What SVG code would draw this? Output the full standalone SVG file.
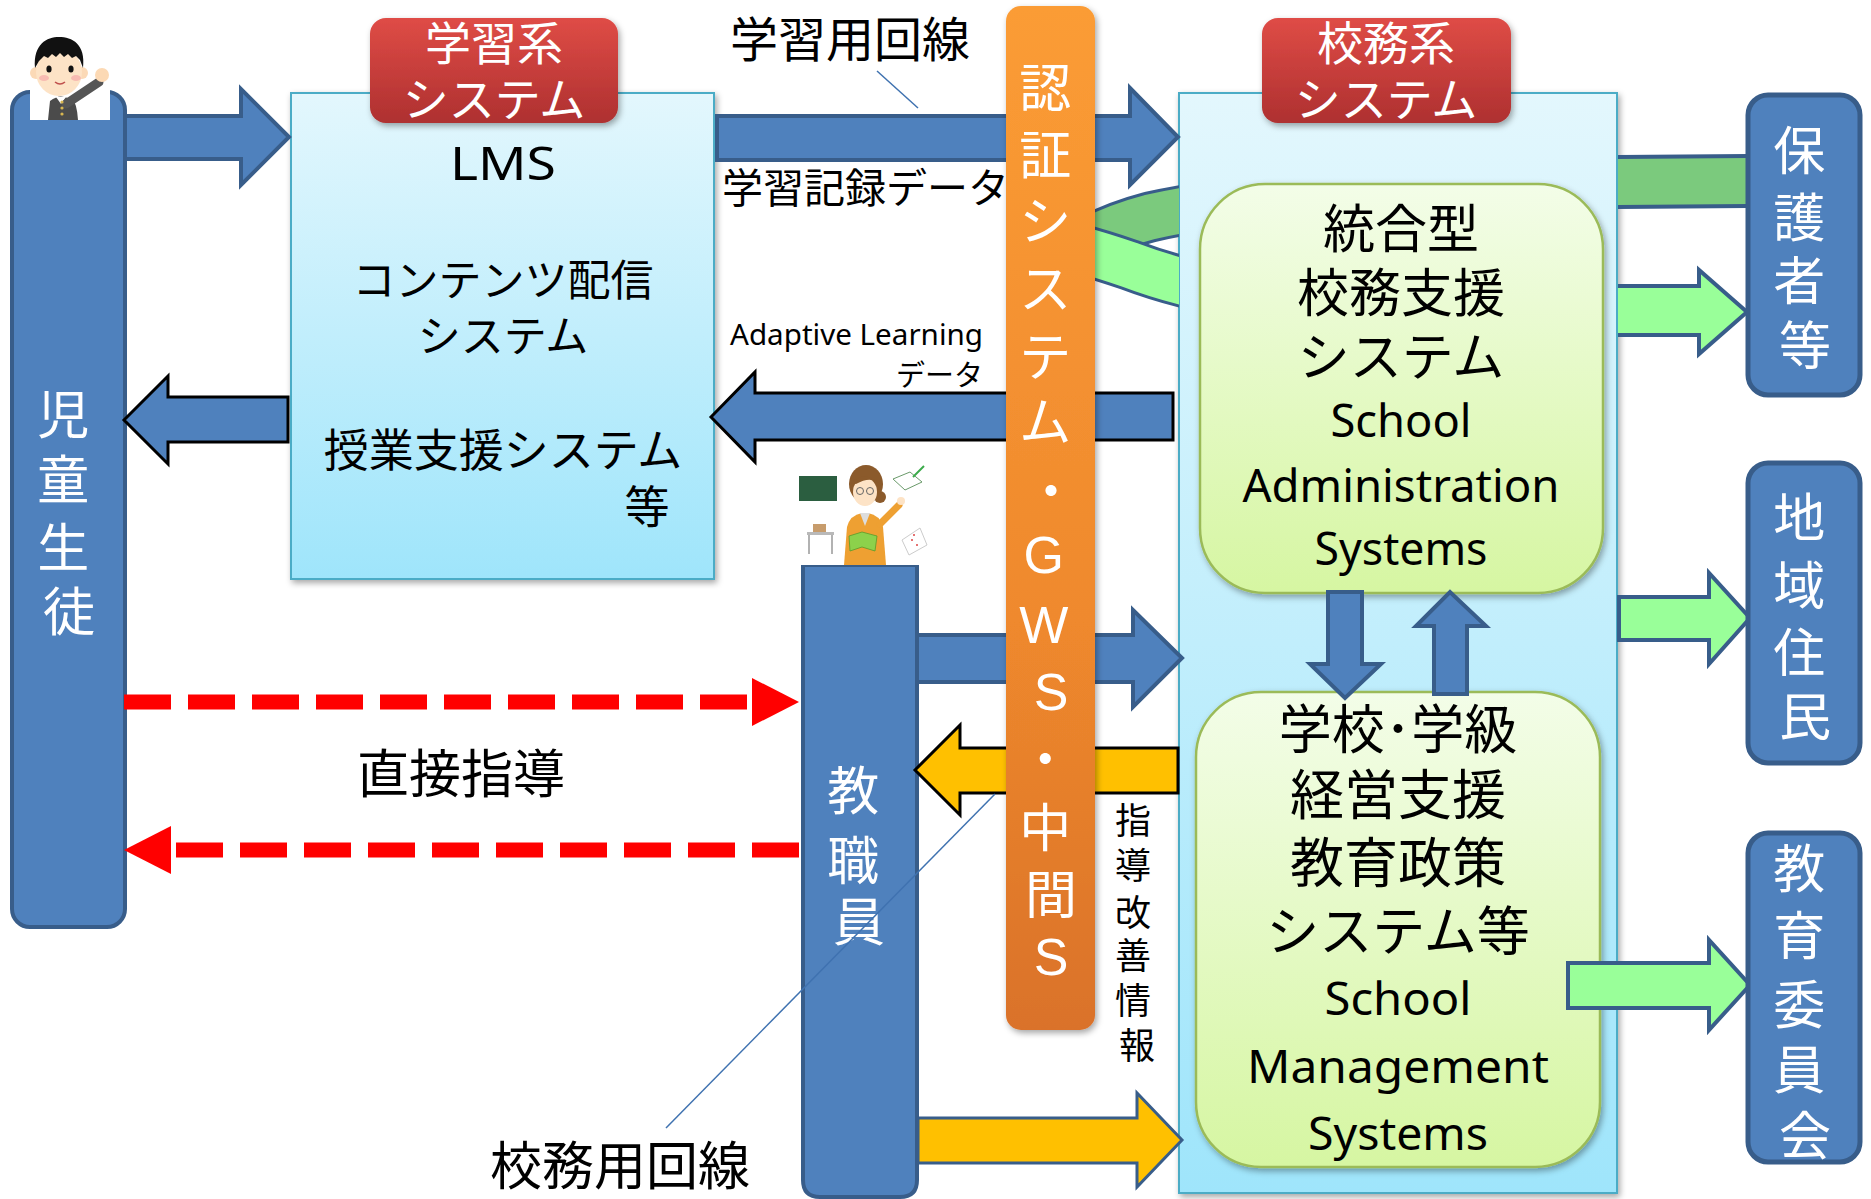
<svg xmlns="http://www.w3.org/2000/svg" width="1871" height="1199" viewBox="0 0 1871 1199">
  <defs>
    <linearGradient id="gLightBlue" x1="0" y1="0" x2="0" y2="1">
      <stop offset="0" stop-color="#e3f7fd"/>
      <stop offset="1" stop-color="#9fe5fb"/>
    </linearGradient>
    <linearGradient id="gGreenBox" x1="0" y1="0" x2="0" y2="1">
      <stop offset="0" stop-color="#f3fde8"/>
      <stop offset="1" stop-color="#d6f6a2"/>
    </linearGradient>
    <linearGradient id="gRed" x1="0" y1="0" x2="0" y2="1">
      <stop offset="0" stop-color="#df4c46"/>
      <stop offset="1" stop-color="#ae3030"/>
    </linearGradient>
    <linearGradient id="gOrange" x1="0" y1="0" x2="0" y2="1">
      <stop offset="0" stop-color="#fb9c35"/>
      <stop offset="0.6" stop-color="#ef892d"/>
      <stop offset="1" stop-color="#da722a"/>
    </linearGradient>
    <filter id="shadow" x="-10%" y="-10%" width="130%" height="130%">
      <feDropShadow dx="2" dy="3" stdDeviation="3" flood-color="#000" flood-opacity="0.35"/>
    </filter>
    <clipPath id="leftOfAdmin">
      <rect x="0" y="0" width="1179" height="1199"/>
    </clipPath>
  </defs>
  <style>
    .jp{font-family:"Noto Sans CJK JP","Noto Sans CJK SC",sans-serif}
    .en{font-family:"Noto Sans","Open Sans",sans-serif}
    .lat{font-family:"Liberation Sans",Arial,sans-serif}
    .white{fill:#fff}
    .black{fill:#000}
    .mid{text-anchor:middle}
    .blueNode{fill:#4f81bd;stroke:#385d8a;stroke-width:4}
    .entity{fill:#4f81bd;stroke:#385d8a;stroke-width:5}
    .redTag{fill:url(#gRed);filter:url(#shadow)}
    .sysBox{fill:url(#gLightBlue);stroke:#4bacc6;stroke-width:2;filter:url(#shadow)}
    .subBox{fill:url(#gGreenBox);stroke:#9bbb59;stroke-width:2.5;filter:url(#shadow)}
    .arrowBlue{fill:#4f81bd;stroke:#385d8a;stroke-width:4}
    .arrowBlueK{fill:#4f81bd;stroke:#000;stroke-width:3}
    .arrowYellowK{fill:#ffc000;stroke:#000;stroke-width:3}
    .arrowYellow{fill:#ffc000;stroke:#385d8a;stroke-width:3}
    .arrowGreen{fill:#99ff99;stroke:#385d8a;stroke-width:4}
    .edge{fill:none;stroke:#385d8a;stroke-width:4}
    .dash{stroke:#ff0000;stroke-width:15;stroke-dasharray:47 17;fill:none}
    .leader{stroke:#3f72b0;stroke-width:1.5;fill:none}
  </style>

  <rect x="0" y="0" width="1871" height="1199" fill="#fff"/>

  <!-- learning system box -->
  <g id="lms">
    <rect class="sysBox" x="291" y="93" width="423" height="486"/>
    <text class="en black mid" x="503" y="180" font-size="46" textLength="106" lengthAdjust="spacingAndGlyphs">LMS</text>
    <text class="jp black mid" x="503" y="296" font-size="43">コンテンツ配信</text>
    <text class="jp black mid" x="503" y="352" font-size="43">システム</text>
    <text class="jp black mid" x="503" y="467" font-size="45">授業支援システム</text>
    <text class="jp black mid" x="647" y="524" font-size="45">等</text>
  </g>

  <!-- school administration box -->
  <g id="admin">
    <rect class="sysBox" x="1179" y="93" width="438" height="1100"/>
  </g>

  <g id="admin-integrated">
    <rect class="subBox" x="1200" y="184" width="403" height="409" rx="65"/>
    <text class="jp black mid" x="1401" y="248" font-size="52">統合型</text>
    <text class="jp black mid" x="1401" y="312" font-size="52">校務支援</text>
    <text class="jp black mid" x="1401" y="376" font-size="52">システム</text>
    <text class="en black mid" x="1401" y="437" font-size="46" textLength="141" lengthAdjust="spacingAndGlyphs">School</text>
    <text class="en black mid" x="1401" y="502" font-size="46" textLength="317" lengthAdjust="spacingAndGlyphs">Administration</text>
    <text class="en black mid" x="1401" y="565" font-size="46" textLength="173" lengthAdjust="spacingAndGlyphs">Systems</text>
  </g>

  <g id="admin-management">
    <rect class="subBox" x="1196" y="692" width="404" height="475" rx="65"/>
    <text class="jp black mid" x="1398" y="749" font-size="53">学校･学級</text>
    <text class="jp black mid" x="1398" y="815" font-size="54">経営支援</text>
    <text class="jp black mid" x="1398" y="883" font-size="54">教育政策</text>
    <text class="jp black mid" x="1398" y="951" font-size="53">システム等</text>
    <text class="en black mid" x="1398" y="1015" font-size="46" textLength="147" lengthAdjust="spacingAndGlyphs">School</text>
    <text class="en black mid" x="1398" y="1083" font-size="46" textLength="302" lengthAdjust="spacingAndGlyphs">Management</text>
    <text class="en black mid" x="1398" y="1150" font-size="46" textLength="180" lengthAdjust="spacingAndGlyphs">Systems</text>
  </g>

  <!-- category tags -->
  <g id="tag-learning">
    <rect class="redTag" x="370" y="18" width="248" height="105" rx="16"/>
    <text class="jp white mid" x="494" y="60" font-size="46">学習系</text>
    <text class="jp white mid" x="494" y="116" font-size="46">システム</text>
  </g>
  <g id="tag-admin">
    <rect class="redTag" x="1262" y="18" width="249" height="105" rx="16"/>
    <text class="jp white mid" x="1386" y="60" font-size="46">校務系</text>
    <text class="jp white mid" x="1386" y="116" font-size="46">システム</text>
  </g>

  <!-- students -->
  <g id="students">
    <rect class="blueNode" x="12" y="92" width="113" height="835" rx="18"/>
    <rect x="30" y="38" width="80" height="82" fill="#fff"/>
    <path d="M48,120 L50,101 Q58,95 64,97 L72,99 Q77,103 78,120 Z" fill="#4b4b4b"/>
    <path d="M56,97 L61,104 L66,97 Z" fill="#fff"/>
    <line x1="66" y1="104" x2="99" y2="82" stroke="#555" stroke-width="9" stroke-linecap="round"/>
    <circle cx="102" cy="75" r="7" fill="#fcd9b4"/>
    <circle cx="62" cy="102" r="1.6" fill="#d8b650"/>
    <circle cx="62" cy="108" r="1.6" fill="#d8b650"/>
    <circle cx="62" cy="114" r="1.6" fill="#d8b650"/>
    <circle cx="36" cy="73" r="6" fill="#fbd9b6"/>
    <circle cx="82" cy="73" r="6" fill="#fbd9b6"/>
    <ellipse cx="59" cy="72" rx="23" ry="24" fill="#fde3c6"/>
    <path d="M35,68 C33,44 47,37 59,37 C72,37 86,44 83,68 L80,60 L76,56 L72,58 L68,54 L64,57 L60,53 L56,57 L52,54 L48,58 L44,56 L39,61 Z" fill="#111"/>
    <ellipse cx="49" cy="69" rx="2.6" ry="3.6" fill="#111"/>
    <ellipse cx="71" cy="69" rx="2.6" ry="3.6" fill="#111"/>
    <ellipse cx="44" cy="78" rx="5" ry="3" fill="#f5aaaa" opacity="0.7"/>
    <ellipse cx="76" cy="78" rx="5" ry="3" fill="#f5aaaa" opacity="0.7"/>
    <path d="M55,82 Q60,86 65,82" stroke="#c0504d" stroke-width="1.5" fill="none"/>
    <text class="jp white mid" font-size="52">
      <tspan x="69" y="434">児</tspan>
      <tspan x="69" y="499">童</tspan>
      <tspan x="69" y="567">生</tspan>
      <tspan x="69" y="631">徒</tspan>
    </text>
  </g>

  <!-- teachers -->
  <g id="teachers">
    <path class="blueNode" d="M803,565 L917,565 L917,1180 Q917,1197 900,1197 L820,1197 Q803,1197 803,1180 Z"/>
    <rect x="799" y="463" width="128" height="102" fill="#fff"/>
    <rect x="799" y="476" width="38" height="25" fill="#2b5e40"/>
    <rect x="807" y="532" width="27" height="3" fill="#b9b9b9"/>
    <rect x="813" y="524" width="13" height="8" fill="#c79c6c"/>
    <line x1="809" y1="535" x2="809" y2="554" stroke="#999" stroke-width="1.5"/>
    <line x1="832" y1="535" x2="832" y2="554" stroke="#999" stroke-width="1.5"/>
    <circle cx="880" cy="497" r="6" fill="#8b5a2b"/>
    <ellipse cx="866" cy="484" rx="17" ry="19" fill="#8b5a2b"/>
    <ellipse cx="865" cy="492" rx="12" ry="14" fill="#fde3c6"/>
    <path d="M851,483 Q864,470 879,483 Q870,476 856,484 Z" fill="#8b5a2b"/>
    <circle cx="860" cy="491" r="3.5" fill="none" stroke="#666" stroke-width="1"/>
    <circle cx="870" cy="491" r="3.5" fill="none" stroke="#666" stroke-width="1"/>
    <path d="M844,565 L847,527 Q850,515 862,513 L868,513 Q880,515 883,527 L886,565 Z" fill="#eea032"/>
    <path d="M860,513 L865,526 L870,513 Z" fill="#ddd"/>
    <line x1="880" y1="524" x2="899" y2="505" stroke="#eea032" stroke-width="7" stroke-linecap="round"/>
    <circle cx="901" cy="501" r="4" fill="#fde3c6"/>
    <path d="M849,536 L862,532 L877,536 L875,551 L862,547 L850,551 Z" fill="#8cd14b" stroke="#5a9a2a" stroke-width="0.8"/>
    <path d="M893,479 L910,472 L922,482 L905,490 Z" fill="#fff" stroke="#6a9a6a" stroke-width="1"/>
    <line x1="913" y1="477" x2="924" y2="466" stroke="#3aaa4a" stroke-width="2"/>
    <path d="M902,540 L920,528 L927,545 L909,555 Z" fill="#fff" stroke="#ccc" stroke-width="1"/>
    <circle cx="912" cy="540" r="1" fill="#d44"/>
    <circle cx="917" cy="545" r="1" fill="#d44"/>
    <circle cx="914" cy="535" r="1" fill="#d44"/>
    <text class="jp white mid" font-size="52">
      <tspan x="859" y="810">教</tspan>
      <tspan x="859" y="880">職</tspan>
      <tspan x="859" y="941">員</tspan>
    </text>
  </g>

  <!-- connectors -->
  <g id="connectors">
    <!-- looping ribbon on the left side of the admin box -->
    <g clip-path="url(#leftOfAdmin)">
      <path d="M1300,197 C1240,201 1195,207 1150,217 C1100,230 1070,250 1045,268" fill="none" stroke="#385d8a" stroke-width="51"/>
      <path d="M1300,197 C1240,201 1195,207 1150,217 C1100,230 1070,250 1045,268" fill="none" stroke="#7bca7d" stroke-width="45"/>
      <path d="M1035,240 C1065,244 1095,253 1130,265 C1180,284 1240,296 1300,302" fill="none" stroke="#385d8a" stroke-width="52"/>
      <path d="M1035,240 C1065,244 1095,253 1130,265 C1180,284 1240,296 1300,302" fill="none" stroke="#99ff99" stroke-width="46"/>
    </g>
    <!-- ribbon back band towards guardians -->
    <rect x="1618" y="157" width="130" height="50" fill="#7bca7d"/>
    <line class="edge" x1="1618" y1="157" x2="1748" y2="156"/>
    <line class="edge" x1="1618" y1="207" x2="1748" y2="206"/>
    <!-- ribbon front band arrow towards guardians -->
    <polygon points="1618,286 1699,286 1699,270 1747,312 1699,354 1699,335 1618,335" fill="#99ff99"/>
    <polyline class="edge" points="1618,286 1699,286 1699,270 1747,312 1699,354 1699,335 1618,335"/>

    <polygon class="arrowGreen" points="1619,597 1709,597 1709,573 1750,618 1709,664 1709,640 1619,640"/>
    <polygon class="arrowGreen" points="1568,963 1709,963 1709,940 1750,985 1709,1030 1709,1008 1568,1008"/>

    <!-- links between the two admin subsystems -->
    <polygon class="arrowBlue" points="1328,592 1362,592 1362,664 1381,664 1345,698 1310,664 1328,664"/>
    <polygon class="arrowBlue" points="1434,694 1467,694 1467,626 1486,626 1450,592 1416,626 1434,626"/>

    <!-- students to learning system -->
    <polygon class="arrowBlue" points="125,116 241,116 241,89 289,137 241,185 241,159 125,159"/>
    <polygon class="arrowBlueK" points="124,420 168,376 168,397 288,397 288,442 168,442 168,464"/>

    <!-- learning line -->
    <polygon class="arrowBlue" points="717,116 1130,116 1130,88 1178,137 1130,185 1130,160 717,160"/>
    <polygon class="arrowBlueK" points="711,417 755,372 755,393 1173,393 1173,440 755,440 755,462"/>

    <!-- teachers and admin system -->
    <polygon class="arrowBlue" points="917,635 1133,635 1133,610 1182,658 1133,707 1133,682 917,682"/>
    <polygon class="arrowYellowK" points="915,770 960,725 960,748 1178,748 1178,793 960,793 960,815"/>
    <polygon class="arrowYellow" points="918,1118 1137,1118 1137,1093 1182,1140 1137,1187 1137,1163 918,1163"/>

    <!-- direct instruction -->
    <line class="dash" x1="124" y1="702" x2="748" y2="702"/>
    <polygon points="752,678 799,702 752,726" fill="#ff0000"/>
    <line class="dash" x1="176" y1="850" x2="800" y2="850"/>
    <polygon points="171,826 124,850 171,874" fill="#ff0000"/>

    <!-- callout leaders -->
    <line class="leader" x1="877" y1="71" x2="918" y2="108"/>
    <line class="leader" x1="995" y1="794" x2="666" y2="1128"/>
  </g>

  <!-- authentication / GWS / middleware column -->
  <g id="auth">
    <rect x="1006" y="6" width="89" height="1024" rx="15" fill="url(#gOrange)" filter="url(#shadow)"/>
    <text class="jp white mid" font-size="52">
      <tspan x="1051" y="107">認</tspan>
      <tspan x="1051" y="174">証</tspan>
      <tspan x="1051" y="240">シ</tspan>
      <tspan x="1051" y="308">ス</tspan>
      <tspan x="1051" y="376">テ</tspan>
      <tspan x="1051" y="441">ム</tspan>
      <tspan x="1051" y="510">・</tspan>
    </text>
    <text class="lat white mid" font-size="52">
      <tspan x="1051" y="573">G</tspan>
      <tspan x="1051" y="643">W</tspan>
      <tspan x="1051" y="710">S</tspan>
    </text>
    <text class="jp white mid" font-size="52">
      <tspan x="1051" y="778">・</tspan>
      <tspan x="1051" y="847">中</tspan>
      <tspan x="1051" y="914">間</tspan>
    </text>
    <text class="lat white mid" x="1051" y="975" font-size="52">S</text>
  </g>

  <!-- external stakeholders -->
  <g id="guardians">
    <rect class="entity" x="1748" y="95" width="112" height="300" rx="20"/>
    <text class="jp white mid" font-size="52">
      <tspan x="1805" y="170">保</tspan>
      <tspan x="1805" y="237">護</tspan>
      <tspan x="1805" y="300">者</tspan>
      <tspan x="1805" y="365">等</tspan>
    </text>
  </g>
  <g id="residents">
    <rect class="entity" x="1748" y="463" width="112" height="300" rx="20"/>
    <text class="jp white mid" font-size="52">
      <tspan x="1805" y="537">地</tspan>
      <tspan x="1805" y="605">域</tspan>
      <tspan x="1805" y="672">住</tspan>
      <tspan x="1805" y="736">民</tspan>
    </text>
  </g>
  <g id="board">
    <rect class="entity" x="1748" y="833" width="112" height="329" rx="20"/>
    <text class="jp white mid" font-size="52">
      <tspan x="1805" y="888">教</tspan>
      <tspan x="1805" y="955">育</tspan>
      <tspan x="1805" y="1024">委</tspan>
      <tspan x="1805" y="1089">員</tspan>
      <tspan x="1805" y="1155">会</tspan>
    </text>
  </g>

  <!-- labels -->
  <g id="labels">
    <text class="jp black mid" x="850" y="57" font-size="48">学習用回線</text>
    <text class="jp black" x="722" y="203" font-size="41">学習記録データ</text>
    <text class="en black" x="983" y="345" font-size="29" text-anchor="end" textLength="253" lengthAdjust="spacingAndGlyphs">Adaptive Learning</text>
    <text class="jp black" x="983" y="386" font-size="29" text-anchor="end">データ</text>
    <text class="jp black mid" x="461" y="793" font-size="52">直接指導</text>
    <text class="jp black mid" x="620" y="1185" font-size="52">校務用回線</text>
    <text class="jp black mid" font-size="36">
      <tspan x="1137" y="834">指</tspan>
      <tspan x="1137" y="879">導</tspan>
      <tspan x="1137" y="926">改</tspan>
      <tspan x="1137" y="969">善</tspan>
      <tspan x="1137" y="1014">情</tspan>
      <tspan x="1137" y="1059">報</tspan>
    </text>
  </g>
</svg>
